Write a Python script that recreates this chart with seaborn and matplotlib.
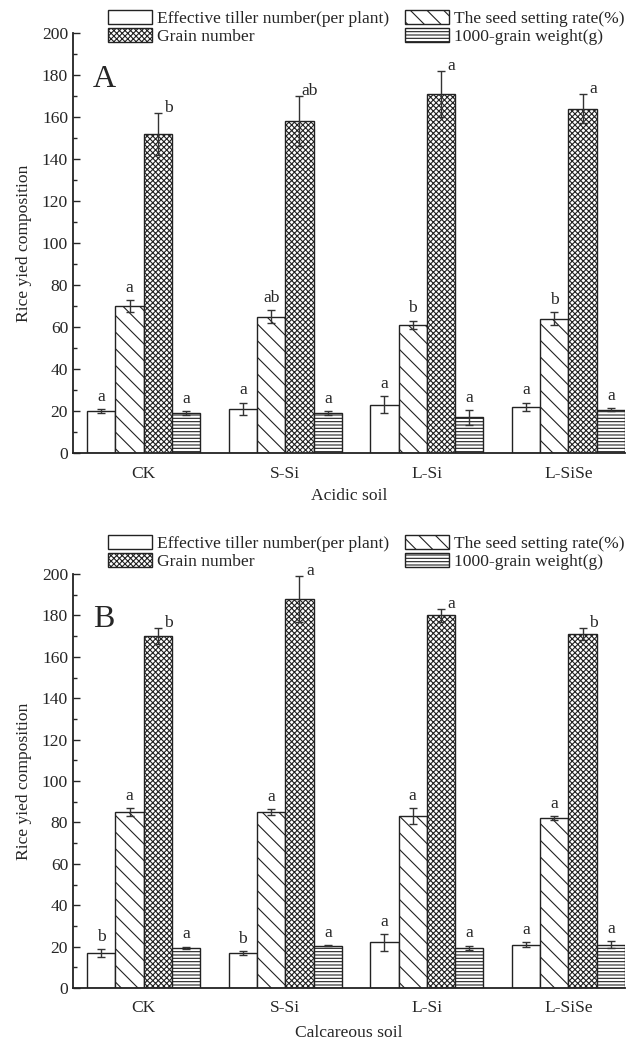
import pandas as pd
import matplotlib
matplotlib.use("Agg")
import matplotlib.pyplot as plt
import seaborn as sns
from matplotlib.patches import Patch
from matplotlib.ticker import MultipleLocator

# Data
treatments = ["CK", "S-Si", "L-Si", "L-SiSe"]
traits = ["Effective tiller number(per plant)", "The seed setting rate(%)",
          "Grain number", "1000-grain weight(g)"]

# Panel A: acidic soil
acid_tiller = [20, 21, 23, 22]
acid_tiller_err = [1, 3, 4, 2]
acid_seed = [70, 65, 61, 64]
acid_seed_err = [3, 3, 2, 3]
acid_grain = [152, 158, 171, 164]
acid_grain_err = [10, 12, 11, 7]
acid_weight = [19, 19, 17, 20.5]
acid_weight_err = [1, 1, 3.5, 0.7]
acid_letters = [["a", "a", "a", "a"], ["a", "ab", "b", "b"],
                ["b", "ab", "a", "a"], ["a", "a", "a", "a"]]

# Panel B: calcareous soil
calc_tiller = [17, 17, 22, 21]
calc_tiller_err = [2, 1, 4, 1]
calc_seed = [85, 85, 83, 82]
calc_seed_err = [2, 1.5, 4, 1]
calc_grain = [170, 188, 180, 171]
calc_grain_err = [4, 11, 3, 3]
calc_weight = [19.5, 20.5, 19.5, 21]
calc_weight_err = [0.5, 0.2, 1, 1.5]
calc_letters = [["b", "b", "a", "a"], ["a", "a", "a", "a"],
                ["b", "a", "a", "b"], ["a", "a", "a", "a"]]

hatches = ["", "\\\\", "xxxxxx", "-----"]
FS = 12.6


def make_frame(vals):
    rows = []
    for trait, v in zip(traits, vals):
        for t, x in zip(treatments, v):
            rows.append({"treatment": t, "trait": trait, "value": x})
    return pd.DataFrame(rows)


def draw_panel(ax, vals, errs, letters, panel, xlabel, labelpad, legend_y):
    df = make_frame(vals)
    sns.barplot(data=df, x="treatment", y="value", hue="trait",
                hue_order=traits, order=treatments,
                palette=["white"] * 4, edgecolor="#222222", linewidth=1.0,
                errorbar=None, width=0.8, legend=False, ax=ax)
    bar_conts = list(ax.containers)
    for i, cont in enumerate(bar_conts):
        for j, bar in enumerate(cont.patches):
            bar.set_hatch(hatches[i])
            xc = bar.get_x() + bar.get_width() / 2
            top = vals[i][j] + errs[i][j]
            ax.errorbar(xc, vals[i][j], yerr=errs[i][j], color="#333333",
                        capsize=3, elinewidth=1, capthick=1, fmt="none")
            if i == 2:
                ax.text(xc + 0.075, top - 1.5, letters[i][j], ha="center",
                        va="bottom", fontsize=FS)
            else:
                ax.text(xc, top + 2, letters[i][j], ha="center",
                        va="bottom", fontsize=FS)

    ax.set_xlim(-0.5, 3.4)
    ax.set_ylim(0, 200)
    ax.yaxis.set_major_locator(MultipleLocator(20))
    ax.yaxis.set_minor_locator(MultipleLocator(10))
    ax.tick_params(axis="y", which="major", direction="in", length=5,
                   width=1, labelsize=FS, left=True)
    ax.tick_params(axis="y", which="minor", direction="in", length=3,
                   width=1, left=True)
    ax.tick_params(axis="x", length=0, labelsize=FS, pad=9)
    for s in ["top", "right"]:
        ax.spines[s].set_visible(False)
    for s in ["left", "bottom"]:
        ax.spines[s].set_linewidth(1.3)
        ax.spines[s].set_color("#222222")
    ax.set_xlabel(xlabel, fontsize=FS, labelpad=labelpad)
    ax.set_ylabel("Rice yied composition", fontsize=FS, labelpad=7)
    ax.text(-0.28, 178, panel, fontsize=23, ha="center", va="center")

    handles = [Patch(facecolor="white", edgecolor="#222222", hatch=hatches[k],
                     label=traits[k]) for k in [0, 2, 1, 3]]
    ax.legend(handles=handles, ncol=2, frameon=False, fontsize=FS,
              loc="upper left", bbox_to_anchor=(108 / 639, legend_y),
              bbox_transform=ax.figure.transFigure, borderpad=0,
              borderaxespad=0, handlelength=2.5, handleheight=0.85,
              handletextpad=0.3, labelspacing=0.05, columnspacing=0.9)


sns.set_style("white")
plt.rcParams["font.family"] = ["Liberation Serif", "DejaVu Serif"]
plt.rcParams["hatch.linewidth"] = 0.8
plt.rcParams["hatch.color"] = "#222222"

fig = plt.figure(figsize=(6.39, 10.45), dpi=100)
ax1 = fig.add_axes([73 / 639, 1 - 453 / 1045, 552 / 639, 420 / 1045])
ax2 = fig.add_axes([73 / 639, 1 - 988 / 1045, 552 / 639, 414 / 1045])

draw_panel(ax1,
           [acid_tiller, acid_seed, acid_grain, acid_weight],
           [acid_tiller_err, acid_seed_err, acid_grain_err, acid_weight_err],
           acid_letters, "A", "Acidic soil", 5, 1 - 10 / 1045)
draw_panel(ax2,
           [calc_tiller, calc_seed, calc_grain, calc_weight],
           [calc_tiller_err, calc_seed_err, calc_grain_err, calc_weight_err],
           calc_letters, "B", "Calcareous soil", 6, 1 - 535 / 1045)

fig.savefig("out.png", dpi=100)
